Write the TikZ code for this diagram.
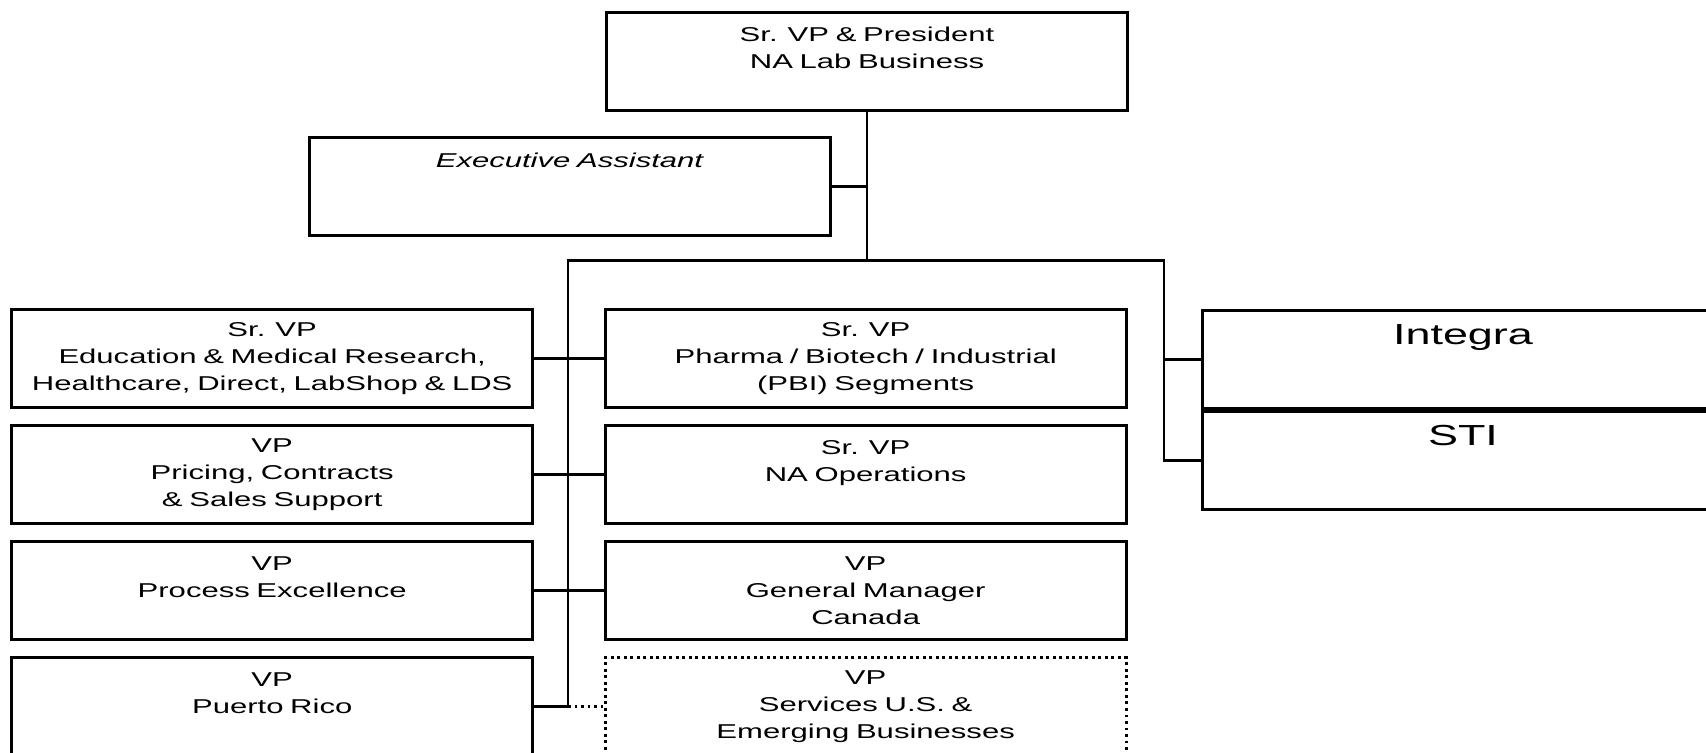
\documentclass[tikz,border=0pt]{standalone}
\usepackage{fontspec}
\setmainfont{Liberation Sans}[FakeStretch=1.55]
\usepackage{tikz}

\begin{document}
\begin{tikzpicture}[x=0.1mm, y=-0.1mm]
    \tikzstyle{block} = [draw, rectangle, line width=0.85pt, minimum width=5.21cm, minimum height=0.98cm, text width=5.1cm, align=center, inner sep=0pt, anchor=center, font=\fontsize{5.7}{7.6}\selectfont];
    \tikzstyle{bigblock} = [block, font=\fontsize{8.25}{10}\selectfont, text height=0.21cm, text depth=0.51cm];
    \tikzstyle{line} = [draw, line width=0.85pt];
    \useasboundingbox (0,0) rectangle (1706,752);
    \node[block] (pres) at (867,61) {Sr. VP \& President\\NA Lab Business\\\mbox{}};
    \node[block] (ea) at (570,186.5) {\textit{Executive Assistant}\\\mbox{}\\\mbox{}};
    \matrix[column sep=0.695cm, row sep=0.15cm, anchor=north west, inner sep=0pt] at (9.5,307.5)
    {
        \node[block] (edu) {Sr. VP\\Education \& Medical Research,\\Healthcare, Direct, LabShop \& LDS}; &
        \node[block] (pbi) {Sr. VP\\Pharma / Biotech / Industrial\\(PBI) Segments}; \\
        \node[block] (pcs) {VP\\Pricing, Contracts\\\& Sales Support}; &
        \node[block] (ops) {Sr. VP\\NA Operations\\\mbox{}}; \\
        \node[block] (pex) {VP\\Process Excellence\\\mbox{}}; &
        \node[block] (gm) {VP\\General Manager\\Canada}; \\
        \node[block] (pr) {VP\\Puerto Rico\\\mbox{}}; &
        \node[block, densely dotted] (svc) {VP\\Services U.S. \&\\Emerging Businesses}; \\
    };
    \node[bigblock, anchor=north west] (integra) at (1201,309) {Integra};
    \node[bigblock, anchor=north west] (sti) at (integra.south west) {STI};
    \coordinate (busw) at (568,260);
    \coordinate (buse) at (1164,260);
    \tikzstyle{every path}=[line]
    \path (pres.south) -- (pres.south |- busw);
    \path (ea.east) -- (ea.east -| pres.south);
    \path (busw |- pr.east) -- (busw) -- (buse) |- (sti.west);
    \path (integra.west) -- (integra.west -| buse);
    \path (edu.east) -- (pbi.west);
    \path (pcs.east) -- (ops.west);
    \path (pex.east) -- (gm.west);
    \path (pr.east) -- (pr.east -| busw);
    \path[densely dotted] (pr.east -| busw) -- (svc.west);
\end{tikzpicture}
\end{document}
